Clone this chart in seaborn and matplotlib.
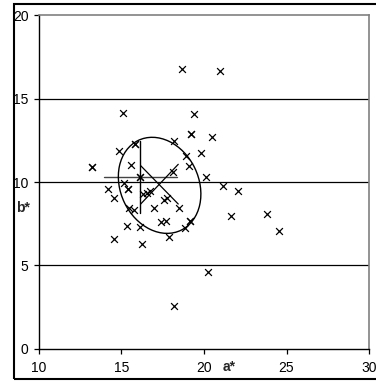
import numpy as np
import matplotlib
matplotlib.use("Agg")
import matplotlib.pyplot as plt
from matplotlib.patches import Ellipse, Rectangle
import seaborn as sns

# a*/b* colour coordinates (repeated points appear twice)
a_star = [18.64, 20.96, 15.07, 19.38, 19.20, 19.20, 20.49, 18.19, 15.81, 15.81,
          14.86, 19.83, 18.90, 15.55, 19.08, 13.19, 13.19, 18.11, 16.14, 16.14,
          20.11, 15.17, 21.14, 14.20, 15.41, 15.41, 22.05, 16.32, 16.52, 16.74,
          14.52, 17.57, 17.77, 15.43, 15.73, 16.94, 18.48, 23.80, 21.64, 15.33,
          16.11, 17.41, 17.71, 19.14, 19.14, 18.84, 24.55, 17.89, 14.52, 16.26,
          20.23, 18.17]
b_star = [16.79, 16.67, 14.13, 14.09, 12.85, 12.85, 12.69, 12.46, 12.28, 12.28,
          11.86, 11.74, 11.54, 11.04, 10.94, 10.90, 10.90, 10.58, 10.30, 10.30,
          10.30, 9.94, 9.76, 9.58, 9.58, 9.58, 9.46, 9.30, 9.34, 9.46,
          9.02, 8.90, 9.06, 8.46, 8.34, 8.46, 8.42, 8.08, 7.94, 7.37,
          7.29, 7.58, 7.68, 7.66, 7.66, 7.27, 7.07, 6.71, 6.59, 6.31,
          4.61, 2.55]

# reference point with its spread
ref_a, ref_b = 16.15, 10.29
ref_a_range = [13.94, 18.35]
ref_b_range = [8.12, 12.45]

# ellipse around the cluster
ell_center = (17.31, 9.80)
ell_width, ell_height, ell_angle = 5.97, 4.74, -63.9
cross_a = [16.16, 18.44]
cross_b_down = [10.98, 8.68]
cross_b_up = [8.68, 11.06]

x_ticks = [10, 15, 20, 25, 30]
y_ticks = [0, 5, 10, 15, 20]

sns.set_style("white")
plt.rcParams['font.family'] = ['Liberation Sans', 'DejaVu Sans']

fig = plt.figure(figsize=(3.76, 3.81), dpi=100)
ax = fig.add_axes([0.1037, 0.0840, 0.8777, 0.8766])

# horizontal grid lines
for yv in y_ticks[1:-1]:
    ax.axhline(yv, color='black', lw=0.9, zorder=1)

sns.scatterplot(x=a_star, y=b_star, marker='x', color='black', s=24,
                linewidth=0.9, ax=ax, zorder=3)

# reference cross
ax.plot(ref_a_range, [ref_b, ref_b], color='#444444', lw=1.0, zorder=2)
ax.plot([ref_a, ref_a], ref_b_range, color='black', lw=1.0, zorder=2)

# ellipse and its diagonals
ax.add_patch(Ellipse(ell_center, ell_width, ell_height, angle=ell_angle,
                     fill=False, edgecolor='black', lw=1.0, zorder=2))
ax.plot(cross_a, cross_b_down, color='black', lw=0.9, zorder=2)
ax.plot(cross_a, cross_b_up, color='black', lw=0.9, zorder=2)

ax.set_xlim(10, 30)
ax.set_ylim(0, 20)
ax.set_xticks(x_ticks)
ax.set_yticks(y_ticks)
ax.tick_params(direction='out', length=3.5, width=0.9, labelsize=10,
               colors='black', bottom=True, left=True)
ax.tick_params(axis='x', pad=5)
ax.tick_params(axis='y', pad=4)

for side in ['left', 'bottom']:
    ax.spines[side].set_color('black')
    ax.spines[side].set_linewidth(1.0)
for side in ['top', 'right']:
    ax.spines[side].set_color('#808080')
    ax.spines[side].set_linewidth(1.2)

ax.set_xlabel('a*', fontweight='bold', fontsize=10, va='center')
ax.xaxis.set_label_coords(0.576, -0.054)
ax.set_ylabel('b*', fontweight='bold', fontsize=10, rotation=0,
              ha='center', va='center')
ax.yaxis.set_label_coords(-0.048, 0.422)

# outer frame
fig.patches.append(Rectangle((13.5 / 376, 1 - 378.5 / 381), 1.0,
                             375 / 381, transform=fig.transFigure,
                             fill=False, edgecolor='black', lw=1.5))

fig.savefig('out.png', dpi=100)
